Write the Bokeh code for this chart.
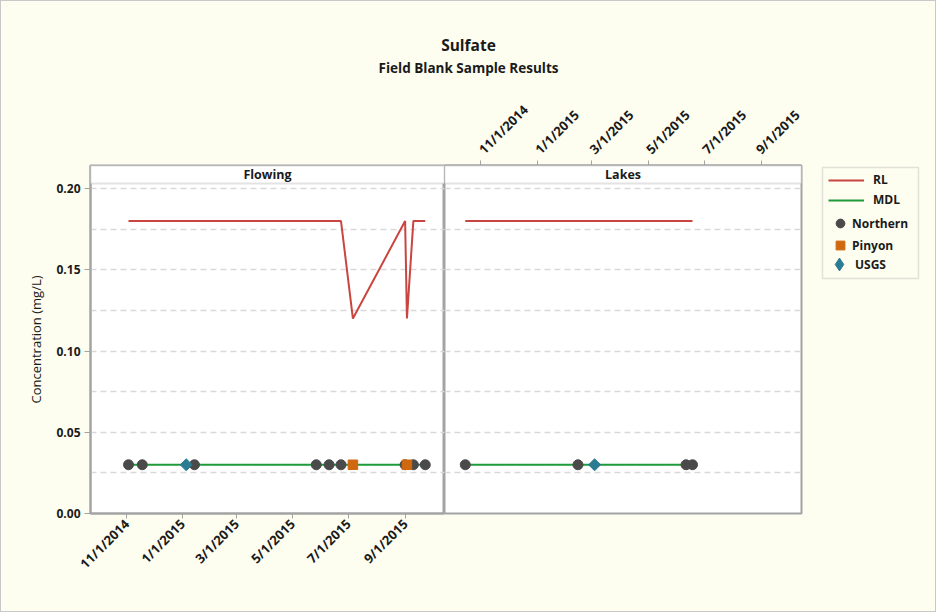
import math
import pandas as pd
from bokeh.plotting import figure
from bokeh.layouts import column, row
from bokeh.models import (ColumnDataSource, FixedTicker, Grid, BoxAnnotation, Label,
                          Legend, LegendItem, CustomJSTickFormatter, NumeralTickFormatter,
                          Range1d)
from bokeh.embed import file_html
from bokeh.resources import INLINE

# ---- data -------------------------------------------------------------
flow_dates = ["2014-11-03", "2014-11-18", "2015-01-05", "2015-01-14", "2015-05-27",
              "2015-06-10", "2015-06-23", "2015-07-06", "2015-09-01", "2015-09-03",
              "2015-09-10", "2015-09-23"]
flow_labs = ["Northern", "Northern", "USGS", "Northern", "Northern", "Northern",
             "Northern", "Pinyon", "Northern", "Pinyon", "Northern", "Northern"]
flow_conc = [0.03, 0.03, 0.03, 0.03, 0.03, 0.03, 0.03, 0.03, 0.03, 0.03, 0.03, 0.03]
flow_rl = [0.18, 0.18, 0.18, 0.18, 0.18, 0.18, 0.18, 0.12, 0.18, 0.12, 0.18, 0.18]
flow_mdl = [0.03, 0.03, 0.03, 0.03, 0.03, 0.03, 0.03, 0.03, 0.03, 0.03, 0.03, 0.03]

lake_dates = ["2014-10-15", "2015-02-14", "2015-03-04", "2015-06-11", "2015-06-18"]
lake_labs = ["Northern", "Northern", "USGS", "Northern", "Northern"]
lake_conc = [0.03, 0.03, 0.03, 0.03, 0.03]
lake_rl = [0.18, 0.18, 0.18, 0.18, 0.18]
lake_mdl = [0.03, 0.03, 0.03, 0.03, 0.03]

labs = ["Northern", "Pinyon", "USGS"]
x_tick_dates = ["2014-11-01", "2015-01-01", "2015-03-01", "2015-05-01",
                "2015-07-01", "2015-09-01"]
y_ticks = [0.0, 0.05, 0.10, 0.15, 0.20]
y_minor = [0.025, 0.075, 0.125, 0.175]

# ---- styling ----------------------------------------------------------
BG = "#fdfdf0"
FRAME = "#a3a3a3"
GRIDC = "#d9d9d9"
TXT = "#1a1a1a"
FONT = "Open Sans"
RL_COLOR = "#c9453f"
MDL_COLOR = "#1f9a3a"
LAB_STYLE = {
    "Northern": dict(marker="circle", color="#4a4a4a", size=10, angle=0.0),
    "Pinyon": dict(marker="square", color="#d0680f", size=9.5, angle=0.0),
    "USGS": dict(marker="square", color="#2a7c93", size=8.5, angle=math.pi / 4),
}

Y_TOP = 0.2142          # top of panel (includes strip)
STRIP_BOTTOM = 0.2031   # lower edge of the facet strip


def to_ms(dates):
    return [int(v) for v in pd.to_datetime(dates).astype("int64") // 10**6]


X0 = to_ms(["2014-09-22 12:00"])[0]
X1 = to_ms(["2015-10-14"])[0]

date_fmt = CustomJSTickFormatter(code="""
const d = new Date(tick);
return (d.getUTCMonth() + 1) + "/" + d.getUTCDate() + "/" + d.getUTCFullYear();
""")


def build_sources(dates, lab_list, conc, rl, mdl):
    x = pd.to_datetime(dates)
    src = {"limits": ColumnDataSource(dict(x=x, rl=rl, mdl=mdl))}
    for lab in labs:
        keep = [i for i, l in enumerate(lab_list) if l == lab]
        src[lab] = ColumnDataSource(dict(x=[x[i] for i in keep],
                                         y=[conc[i] for i in keep]))
    return src


def add_series(p, src):
    """Draw RL / MDL lines and the lab markers; return the renderers."""
    r = {
        "RL": p.line("x", "rl", source=src["limits"], line_color=RL_COLOR, line_width=2),
        "MDL": p.line("x", "mdl", source=src["limits"], line_color=MDL_COLOR,
                      line_width=2),
    }
    for lab in labs:
        st = LAB_STYLE[lab]
        r[lab] = p.scatter("x", "y", source=src[lab], marker=st["marker"],
                           size=st["size"], angle=st["angle"],
                           fill_color=st["color"], line_color=st["color"])
    return r


def make_panel(name, src, width, frame_w, left, right, xloc, yloc):
    p = figure(width=width, height=523, x_axis_type="datetime",
               x_range=Range1d(X0, X1), y_range=Range1d(0, Y_TOP),
               x_axis_location=xloc, y_axis_location=yloc,
               output_backend="svg", toolbar_location=None,
               min_border_left=left, min_border_right=right,
               min_border_top=77, min_border_bottom=98)
    p.background_fill_color = "white"
    p.border_fill_color = BG
    p.outline_line_color = FRAME
    p.outline_line_width = 2
    p.xgrid.visible = False
    p.ygrid.visible = False

    grid = Grid(dimension=1, ticker=FixedTicker(ticks=y_ticks, minor_ticks=y_minor),
                grid_line_color=GRIDC, grid_line_dash="6 4", grid_line_width=1.5,
                minor_grid_line_color=GRIDC, minor_grid_line_dash="6 4",
                minor_grid_line_width=1.5)
    p.add_layout(grid)

    xa = p.xaxis[0]
    xa.ticker = FixedTicker(ticks=to_ms(x_tick_dates))
    xa.formatter = date_fmt
    xa.major_label_orientation = math.pi / 4
    xa.major_label_text_font = FONT
    xa.major_label_text_font_size = "13px"
    xa.major_label_text_font_style = "bold"
    xa.major_label_text_color = TXT
    xa.major_label_standoff = 3 if xloc == "below" else 9
    xa.axis_line_color = FRAME
    xa.axis_line_width = 2
    xa.major_tick_line_color = FRAME
    xa.major_tick_out = 5
    xa.major_tick_in = 0
    xa.minor_tick_line_color = None

    if yloc is not None:
        ya = p.yaxis[0]
        ya.ticker = FixedTicker(ticks=y_ticks)
        ya.formatter = NumeralTickFormatter(format="0.00")
        ya.axis_label = "Concentration (mg/L)"
        ya.axis_label_text_font = FONT
        ya.axis_label_text_font_size = "13px"
        ya.axis_label_text_font_style = "normal"
        ya.axis_label_text_color = TXT
        ya.axis_label_standoff = 8
        ya.major_label_text_font = FONT
        ya.major_label_text_font_size = "12px"
        ya.major_label_text_font_style = "bold"
        ya.major_label_text_color = TXT
        ya.major_label_standoff = 4
        ya.axis_line_color = FRAME
        ya.axis_line_width = 2
        ya.major_tick_line_color = FRAME
        ya.major_tick_out = 6
        ya.major_tick_in = 0
        ya.minor_tick_line_color = None

    add_series(p, src)

    # facet strip
    p.add_layout(BoxAnnotation(bottom=STRIP_BOTTOM, fill_color="white", fill_alpha=1,
                               line_color=FRAME, line_width=2))
    p.add_layout(Label(x=frame_w / 2, x_units="screen",
                       y=(STRIP_BOTTOM + Y_TOP) / 2, text=name,
                       text_align="center", text_baseline="middle",
                       text_font=FONT, text_font_size="12.5px", text_font_style="bold",
                       text_color=TXT))
    return p


flow_src = build_sources(flow_dates, flow_labs, flow_conc, flow_rl, flow_mdl)
lake_src = build_sources(lake_dates, lake_labs, lake_conc, lake_rl, lake_mdl)

pL = make_panel("Flowing", flow_src, 443, 354, 89, 0, "below", "left")
pR = make_panel("Lakes", lake_src, 359, 357, 0, 2, "above", None)

# ---- legend figure ------------------------------------------------------
# Its own ranges keep the shared data out of view; only the legend shows.
# The frame shares the panels' top/bottom borders, so offsets are measured
# from the panel bottom edge.
leg = figure(width=132, height=523, x_range=(0, 1), y_range=(0, 1),
             output_backend="svg", toolbar_location=None, min_border=0)
leg.axis.visible = False
leg.grid.visible = False
leg.outline_line_color = None
leg.background_fill_color = BG
leg.border_fill_color = BG
sw = add_series(leg, flow_src)
usgs_sw = leg.scatter("x", "y", source=flow_src["USGS"], marker="diamond",
                      fill_color=LAB_STYLE["USGS"]["color"],
                      line_color=LAB_STYLE["USGS"]["color"])

leg.add_layout(BoxAnnotation(left=19, right=115, top=346, bottom=235,
                             left_units="screen", right_units="screen",
                             top_units="screen", bottom_units="screen",
                             fill_alpha=0, line_color=FRAME, line_width=1.5))

common = dict(border_line_alpha=0, background_fill_alpha=0, padding=0, margin=0,
              label_text_font=FONT, label_text_font_size="12px",
              label_text_font_style="bold", label_text_color=TXT)
leg_lines = Legend(items=[LegendItem(label="RL", renderers=[sw["RL"]]),
                          LegendItem(label="MDL", renderers=[sw["MDL"]])],
                   location=(25, 305), glyph_width=36, glyph_height=16,
                   label_height=16, spacing=3, label_standoff=9, **common)
leg_marks = Legend(items=[LegendItem(label=lab, renderers=[sw[lab]])
                          for lab in ["Northern", "Pinyon"]],
                   location=(26, 257), glyph_width=22, glyph_height=22,
                   label_height=16, spacing=-3, label_standoff=1, **common)
leg_usgs = Legend(items=[LegendItem(label="USGS", renderers=[usgs_sw])],
                  location=(20, 233), glyph_width=32, glyph_height=32,
                  label_height=16, spacing=0, label_standoff=-3, **common)
leg.add_layout(leg_lines)
leg.add_layout(leg_marks)
leg.add_layout(leg_usgs)

# ---- header with titles -------------------------------------------------
head = figure(width=934, height=87, x_range=(0, 1), y_range=(0, 1),
              output_backend="svg", toolbar_location=None, min_border=0)
head.axis.visible = False
head.grid.visible = False
head.outline_line_color = None
head.background_fill_color = BG
head.border_fill_color = BG
head.add_layout(Label(x=467, y=44, x_units="screen", y_units="screen", text="Sulfate",
                      text_align="center", text_baseline="middle", text_font=FONT,
                      text_font_size="15.5px", text_font_style="bold", text_color=TXT))
head.add_layout(Label(x=467, y=21, x_units="screen", y_units="screen",
                      text="Field Blank Sample Results", text_align="center",
                      text_baseline="middle", text_font=FONT, text_font_size="13.5px",
                      text_font_style="bold", text_color=TXT))

layout = column(head, row(pL, pR, leg, styles={"background-color": BG}),
                styles={"background-color": BG, "border": "1px solid #c9c9c9"})
open("out.html", "w").write(file_html(layout, INLINE))
